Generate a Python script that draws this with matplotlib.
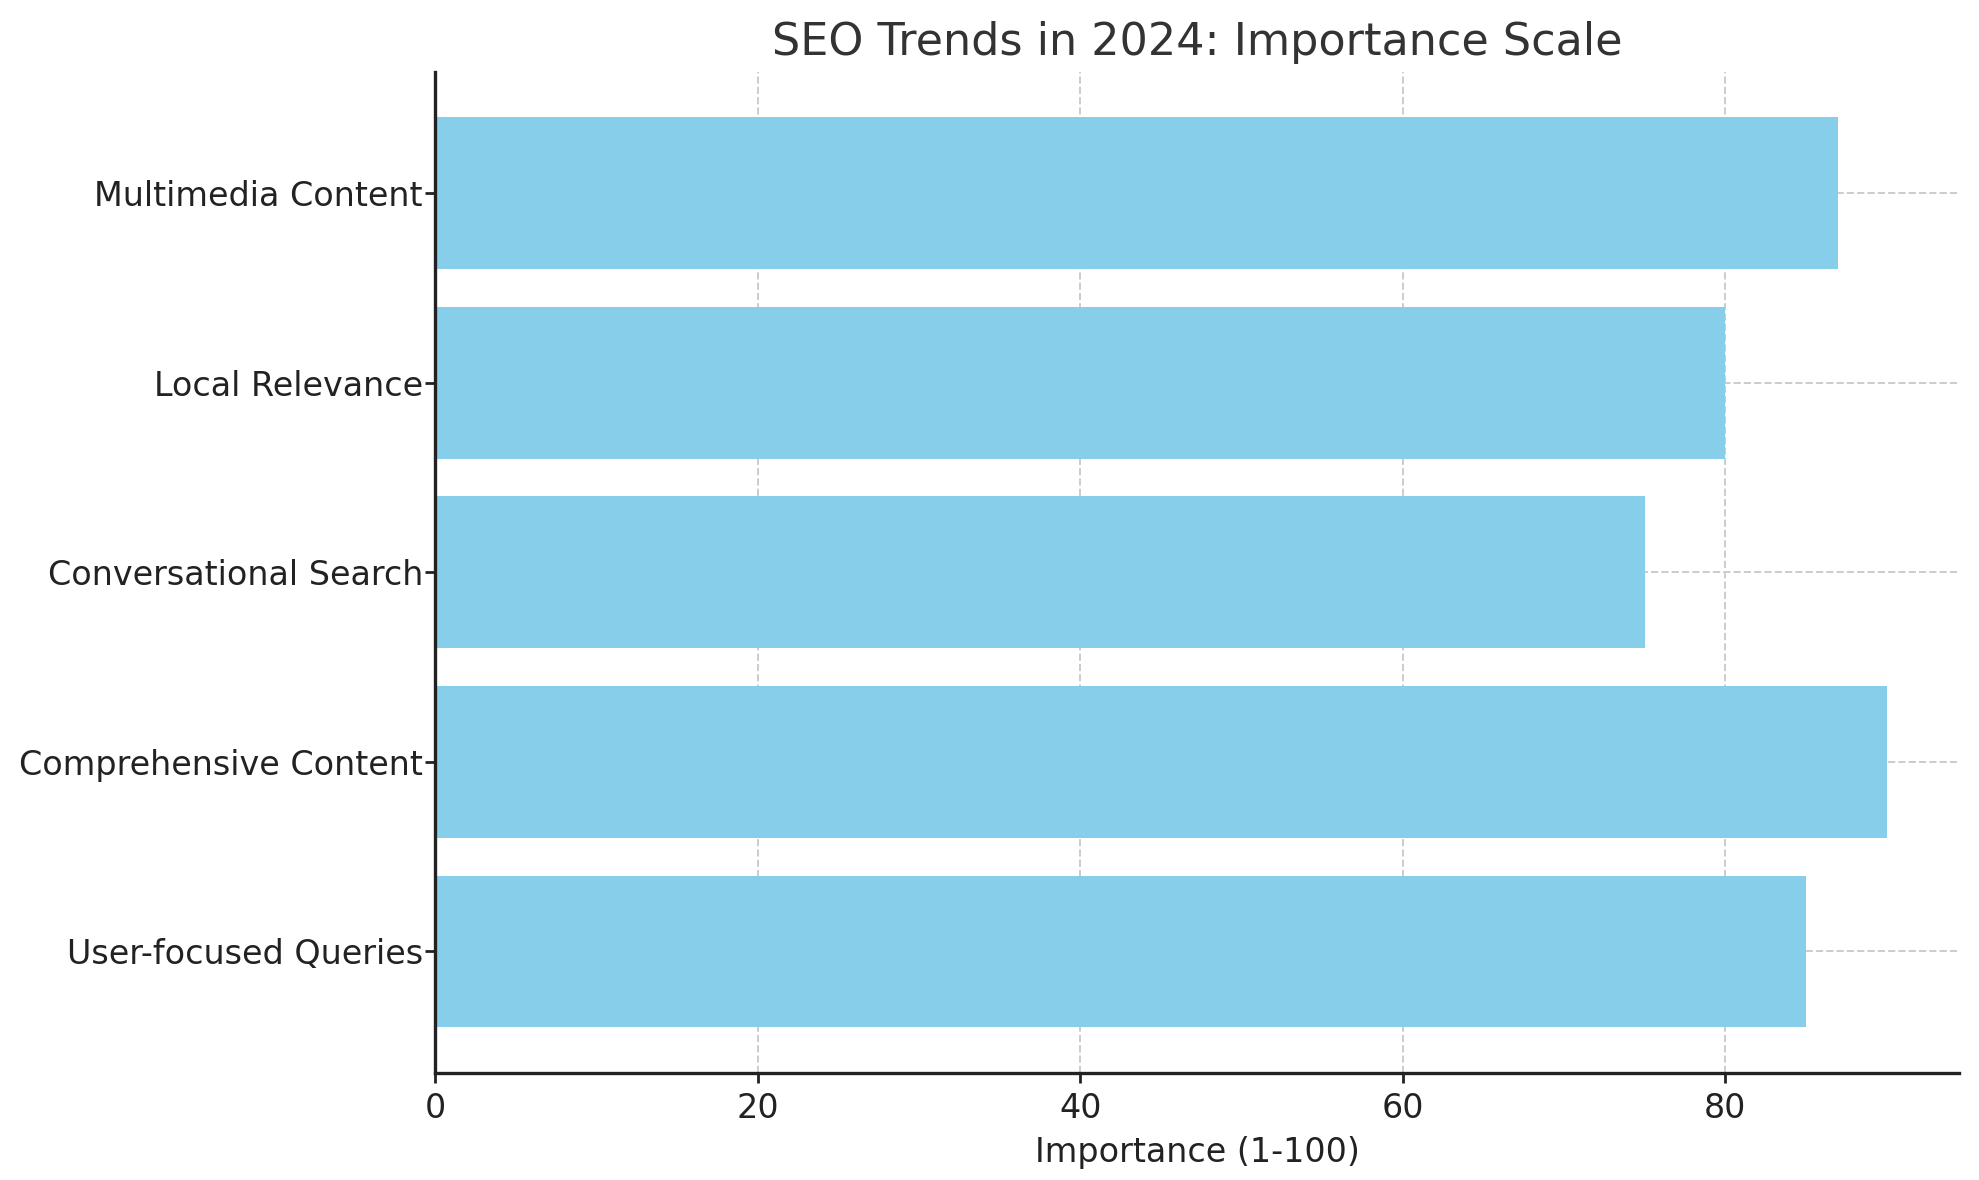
import matplotlib
matplotlib.use("Agg")
import matplotlib.pyplot as plt

trends = ['User-focused Queries', 'Comprehensive Content', 'Conversational Search',
          'Local Relevance', 'Multimedia Content']
importance = [85, 90, 75, 80, 87]

fig = plt.figure(figsize=(1979/200, 1180/200), dpi=200)
ax = fig.add_axes([0.220, 0.091, 0.770, 0.848])

ax.barh(trends, importance, color='skyblue')
ax.set_axisbelow(True)
ax.grid(True, linestyle='--', color='#cccccc', linewidth=0.7)

ax.set_title('SEO Trends in 2024: Importance Scale', fontsize=16, color='#333333')
ax.set_xlabel('Importance (1-100)', fontsize=12, color='#222222')
ax.tick_params(axis='both', labelsize=12, colors='#222222', width=1.0, length=3.5)
ax.tick_params(axis='y', pad=1)

for s in ['top', 'right']:
    ax.spines[s].set_visible(False)
for s in ['left', 'bottom']:
    ax.spines[s].set_color('#222222')
    ax.spines[s].set_linewidth(1.2)

plt.savefig('out.png', dpi=200)
